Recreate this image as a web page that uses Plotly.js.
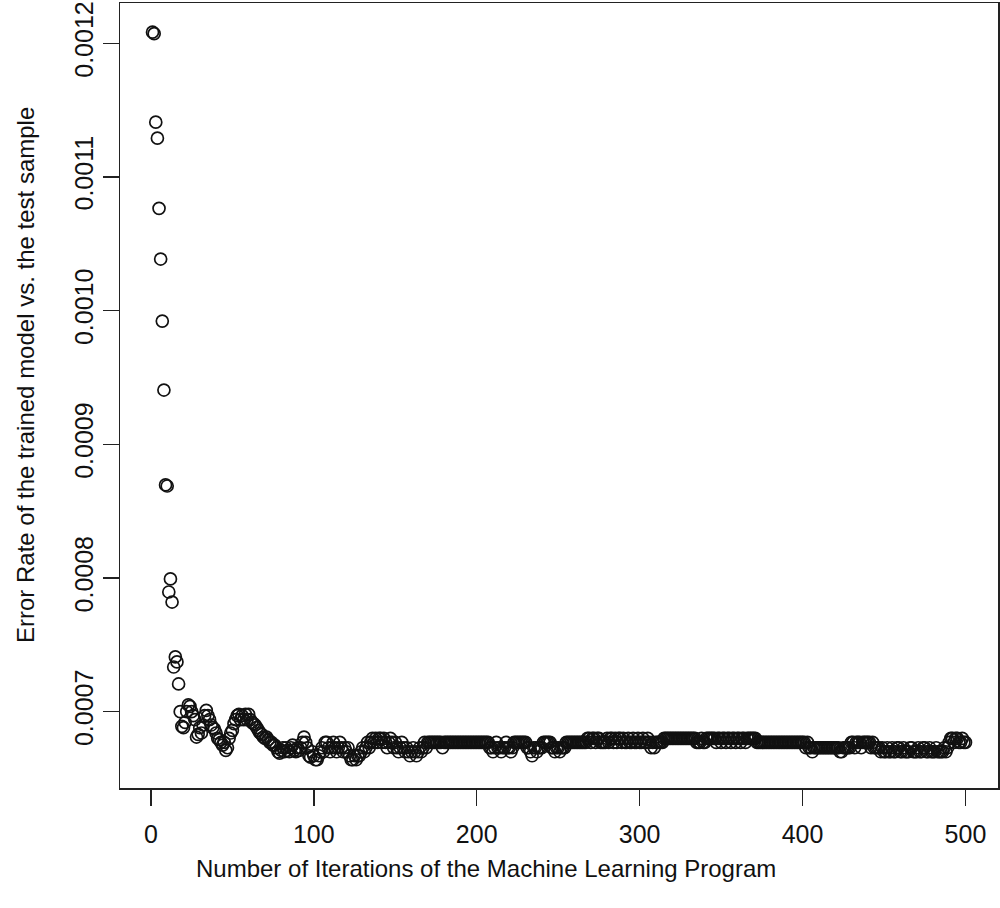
<!DOCTYPE html>
<html>
<head>
<meta charset="utf-8">
<script src="https://cdn.plot.ly/plotly-3.0.1.min.js"></script>
<style>html,body{margin:0;padding:0;background:#fff;}#chart{width:1000px;height:908px;}</style>
</head>
<body>
<div id="chart"></div>
<script>
// Error rate of the trained model vs. the test sample, one value per iteration (1..500)
const errorRate = [
0.0012083,0.0012072,0.001141,0.001129,0.0010765,0.0010386,0.0009922,0.0009406,0.0008696,0.0008688,
0.0007895,0.0007993,0.000782,0.0007334,0.0007409,0.0007372,0.0007207,0.0007,0.000689,0.000688,
0.000692,0.0007,0.000705,0.000704,0.0007,0.000697,0.000694,0.000681,0.000683,0.000688,
0.000684,0.00069,0.000697,0.000701,0.000697,0.000694,0.00069,0.000688,0.000687,0.000684,
0.00068,0.000679,0.000677,0.000675,0.000677,0.000671,0.000673,0.00068,0.000684,0.000686,
0.000691,0.000694,0.000697,0.000698,0.000694,0.000697,0.000694,0.000698,0.000694,0.000698,
0.000694,0.000692,0.000691,0.00069,0.000688,0.000686,0.000684,0.000683,0.000681,0.00068,
0.000681,0.000679,0.000677,0.000677,0.000675,0.000675,0.000673,0.00067,0.000669,0.000671,
0.000673,0.00067,0.000673,0.000671,0.00067,0.000673,0.000675,0.000671,0.00067,0.000673,
0.000671,0.000673,0.000677,0.000681,0.000677,0.000673,0.000667,0.000666,0.00067,0.000667,
0.000664,0.000664,0.000667,0.00067,0.000673,0.00067,0.000677,0.000677,0.000673,0.00067,
0.000673,0.000677,0.000673,0.00067,0.000673,0.000677,0.000673,0.00067,0.000673,0.00067,
0.000673,0.000667,0.000664,0.000664,0.000667,0.000664,0.000667,0.000667,0.00067,0.000673,
0.00067,0.000673,0.000677,0.000673,0.000677,0.00068,0.000677,0.00068,0.000677,0.00068,
0.00068,0.000677,0.00068,0.000677,0.000673,0.000677,0.00068,0.000677,0.000673,0.000677,
0.000673,0.00067,0.000673,0.000677,0.000673,0.00067,0.000673,0.00067,0.000667,0.00067,
0.000673,0.00067,0.000667,0.00067,0.000673,0.00067,0.000673,0.000677,0.000673,0.000677,
0.000677,0.000677,0.000677,0.000677,0.000677,0.000677,0.000677,0.000677,0.000673,0.000677,
0.000677,0.000677,0.000677,0.000677,0.000677,0.000677,0.000677,0.000677,0.000677,0.000677,
0.000677,0.000677,0.000677,0.000677,0.000677,0.000677,0.000677,0.000677,0.000677,0.000677,
0.000677,0.000677,0.000677,0.000677,0.000677,0.000677,0.000677,0.000673,0.000673,0.00067,
0.000673,0.000677,0.000673,0.000673,0.00067,0.000673,0.000673,0.000677,0.000673,0.000673,
0.00067,0.000673,0.000677,0.000677,0.000677,0.000677,0.000677,0.000677,0.000677,0.000677,
0.000673,0.000673,0.00067,0.000667,0.000673,0.000673,0.00067,0.000673,0.000673,0.000673,
0.000677,0.000677,0.000677,0.000677,0.000677,0.000673,0.000673,0.00067,0.000673,0.000673,
0.00067,0.000673,0.000673,0.000673,0.000677,0.000677,0.000677,0.000677,0.000677,0.000677,
0.000677,0.000677,0.000677,0.000677,0.000677,0.000677,0.000677,0.00068,0.00068,0.000677,
0.00068,0.00068,0.000677,0.00068,0.00068,0.000677,0.000677,0.000677,0.000677,0.00068,
0.000677,0.00068,0.00068,0.000677,0.00068,0.000677,0.00068,0.00068,0.000677,0.00068,
0.000677,0.000677,0.00068,0.000677,0.000677,0.00068,0.000677,0.000677,0.00068,0.000677,
0.000677,0.00068,0.000677,0.000677,0.00068,0.000677,0.000673,0.000677,0.000673,0.000677,
0.000677,0.000677,0.000677,0.000677,0.00068,0.00068,0.00068,0.00068,0.00068,0.00068,
0.00068,0.00068,0.00068,0.00068,0.00068,0.00068,0.00068,0.00068,0.00068,0.00068,
0.00068,0.00068,0.00068,0.00068,0.000677,0.000677,0.000677,0.00068,0.000677,0.000677,
0.00068,0.00068,0.00068,0.00068,0.00068,0.00068,0.000677,0.00068,0.00068,0.000677,
0.00068,0.00068,0.000677,0.00068,0.00068,0.000677,0.00068,0.00068,0.000677,0.00068,
0.00068,0.000677,0.00068,0.00068,0.000677,0.00068,0.00068,0.00068,0.00068,0.00068,
0.00068,0.000677,0.000677,0.000677,0.000677,0.000677,0.000677,0.000677,0.000677,0.000677,
0.000677,0.000677,0.000677,0.000677,0.000677,0.000677,0.000677,0.000677,0.000677,0.000677,
0.000677,0.000677,0.000677,0.000677,0.000677,0.000677,0.000677,0.000677,0.000677,0.000677,
0.000677,0.000673,0.000677,0.000673,0.000673,0.00067,0.000673,0.000673,0.000673,0.000673,
0.000673,0.000673,0.000673,0.000673,0.000673,0.000673,0.000673,0.000673,0.000673,0.000673,
0.000673,0.000673,0.00067,0.00067,0.000673,0.000673,0.000673,0.000673,0.000673,0.000677,
0.000677,0.000673,0.000677,0.000677,0.000677,0.000673,0.000677,0.000677,0.000677,0.000677,
0.000677,0.000673,0.000677,0.000673,0.000673,0.000673,0.000673,0.00067,0.000673,0.00067,
0.00067,0.000673,0.00067,0.00067,0.000673,0.00067,0.00067,0.000673,0.000673,0.00067,
0.00067,0.000673,0.00067,0.00067,0.00067,0.000673,0.000673,0.00067,0.00067,0.00067,
0.000673,0.00067,0.00067,0.000673,0.000673,0.00067,0.00067,0.000673,0.00067,0.00067,
0.00067,0.000673,0.00067,0.00067,0.00067,0.00067,0.000673,0.00067,0.000673,0.000677,
0.00068,0.00068,0.000677,0.00068,0.00068,0.000677,0.000677,0.00068,0.000677,0.000677
];
const iterations = errorRate.map((_, i) => i + 1);

const xTickValues = [0, 100, 200, 300, 400, 500];
const yTickValues = [0.0007, 0.0008, 0.0009, 0.0010, 0.0011, 0.0012];
const yTickLabels = ["0.0007", "0.0008", "0.0009", "0.0010", "0.0011", "0.0012"];

const xTitle = "Number of Iterations of the Machine Learning Program";
const yTitle = "Error Rate of the trained model vs. the test sample";

const font = "Liberation Sans, Arial, Helvetica, sans-serif";

const trace = {
  x: iterations,
  y: errorRate,
  type: "scatter",
  mode: "markers",
  marker: {symbol: "circle-open", size: 12, color: "#111", line: {width: 1.7, color: "#111"}},
  hoverinfo: "x+y"
};

const layout = {
  width: 1000, height: 908,
  margin: {l: 120, r: 2, t: 3, b: 120},
  paper_bgcolor: "#fff", plot_bgcolor: "#fff",
  showlegend: false,
  font: {family: font, color: "#111"},
  xaxis: {
    range: [-18.96, 519.96],
    tickvals: xTickValues,
    ticks: "outside", ticklen: 16, tickwidth: 1.5, tickcolor: "#222",
    showline: true, mirror: true, linecolor: "#222", linewidth: 1.5,
    showgrid: false, zeroline: false,
    tickfont: {family: font, size: 25, color: "#111"},
    ticklabelstandoff: 7
  },
  yaxis: {
    range: [0.00064287, 0.00123014],
    tickvals: yTickValues, ticktext: yTickLabels,
    tickangle: -90,
    ticks: "outside", ticklen: 16, tickwidth: 1.5, tickcolor: "#222",
    showline: true, mirror: true, linecolor: "#222", linewidth: 1.5,
    showgrid: false, zeroline: false,
    tickfont: {family: font, size: 25, color: "#111"}
  },
  annotations: [
    {text: xTitle, xref: "paper", yref: "paper", x: (486 - 120) / 878, y: -(868 - 788) / 785,
     xanchor: "center", yanchor: "middle", showarrow: false,
     font: {family: font, size: 24, color: "#111"}},
    {text: yTitle, xref: "paper", yref: "paper", x: (25 - 120) / 878, y: (788 - 375) / 785,
     xanchor: "center", yanchor: "middle", showarrow: false, textangle: -90,
     font: {family: font, size: 24, color: "#111"}}
  ]
};

Plotly.newPlot("chart", [trace], layout, {displayModeBar: false, staticPlot: true});
</script>
</body>
</html>
